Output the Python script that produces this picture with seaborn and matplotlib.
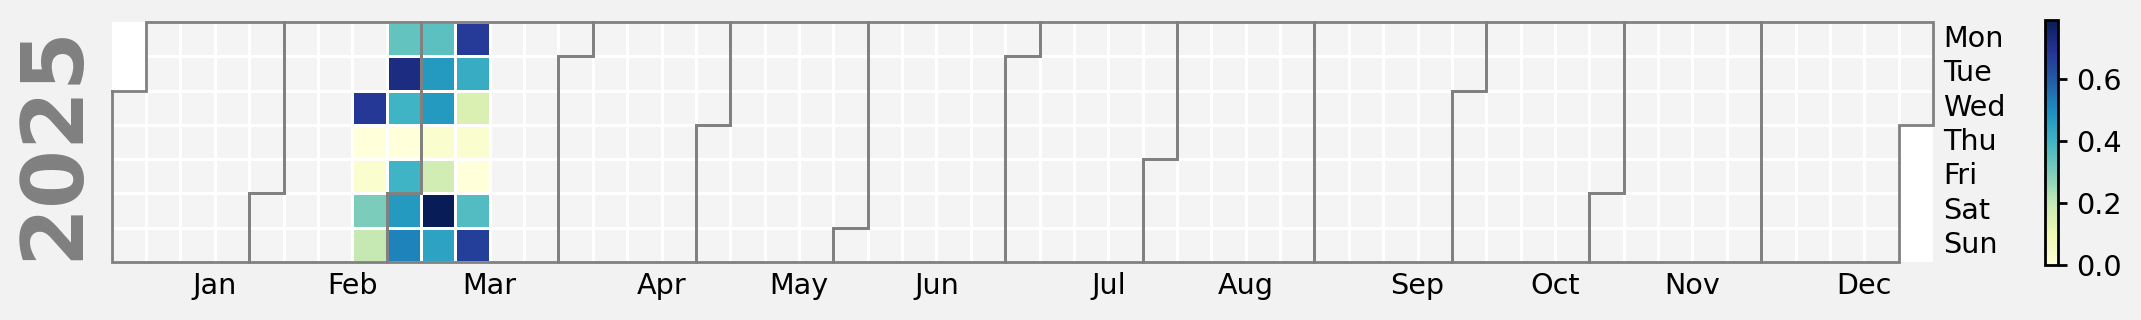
import numpy as np
import pandas as pd
import matplotlib
matplotlib.use("Agg")
import matplotlib.pyplot as plt
import seaborn as sns
from matplotlib.colors import ListedColormap

YEAR = 2025
dates = [
    "2025-02-19", "2025-02-20", "2025-02-21", "2025-02-22", "2025-02-23",
    "2025-02-24", "2025-02-25", "2025-02-26", "2025-02-27", "2025-02-28",
    "2025-03-01", "2025-03-02", "2025-03-03", "2025-03-04", "2025-03-05",
    "2025-03-06", "2025-03-07", "2025-03-08", "2025-03-09", "2025-03-10",
    "2025-03-11", "2025-03-12", "2025-03-13", "2025-03-14", "2025-03-15",
    "2025-03-16",
]
values = [
    0.68, 0.00, 0.03, 0.30, 0.20,
    0.34, 0.72, 0.40, 0.00, 0.40,
    0.47, 0.52, 0.35, 0.47, 0.47,
    0.03, 0.17, 0.79, 0.45, 0.675,
    0.42, 0.15, 0.03, 0.00, 0.37,
    0.665,
]
day_labels = ["Mon", "Tue", "Wed", "Thu", "Fri", "Sat", "Sun"]
month_labels = ["Jan", "Feb", "Mar", "Apr", "May", "Jun",
                "Jul", "Aug", "Sep", "Oct", "Nov", "Dec"]
cbar_ticks = [0.0, 0.2, 0.4, 0.6]

all_days = pd.date_range(f"{YEAR}-01-01", f"{YEAR}-12-31")
start_wd = all_days[0].weekday()


def col(d):
    return (d.dayofyear - 1 + start_wd) // 7


ncols = col(all_days[-1]) + 1
fill = np.full((7, ncols), np.nan)
for d in all_days:
    fill[d.weekday(), col(d)] = 1.0
data = np.full((7, ncols), np.nan)
for d, v in zip(pd.to_datetime(dates), values):
    data[d.weekday(), col(d)] = v

fig = plt.figure(figsize=(10.705, 1.6), dpi=200, facecolor="#f2f2f2")
ax = fig.add_axes([0.05217, 0.18125, 0.8507, 0.75])
cax = fig.add_axes([0.955, 0.1719, 0.0062, 0.7656])
ax.set_facecolor("white")

sns.heatmap(fill, ax=ax, cmap=ListedColormap(["#f4f4f4"]), cbar=False,
            linewidths=1.0, linecolor="white")
sns.heatmap(data, ax=ax, cmap="YlGnBu", vmin=0, vmax=max(values),
            cbar_ax=cax, linewidths=1.0, linecolor="white")

for m in range(1, 13):
    first = pd.Timestamp(YEAR, m, 1)
    last = first + pd.offsets.MonthEnd(0)
    x0, x1 = col(first), col(last)
    y0, y1 = first.weekday(), last.weekday()
    P = [(x0, y0), (x0, 7), (x1, 7), (x1, y1 + 1), (x1 + 1, y1 + 1),
         (x1 + 1, 0), (x0 + 1, 0), (x0 + 1, y0), (x0, y0)]
    xs, ys = zip(*P)
    ax.plot(xs, ys, color="grey", lw=1.0, solid_joinstyle="miter",
            solid_capstyle="projecting", clip_on=False)

ax.set_xticks([col(pd.Timestamp(YEAR, m, 15)) + 1 for m in range(1, 13)])
ax.set_xticklabels(month_labels, rotation=0, fontsize=10.3)
ax.set_yticks(np.arange(7) + 0.5)
ax.set_yticklabels(day_labels, rotation=0, fontsize=10.3, va="center")
ax.yaxis.tick_right()
ax.tick_params(length=0)
ax.tick_params(axis="y", pad=3.5)
ax.set_ylabel(str(YEAR), fontsize=30.5, color="grey", fontweight="bold",
              labelpad=6)
ax.yaxis.set_label_position("left")

cbar = ax.collections[-1].colorbar
cbar.outline.set_linewidth(1.0)
cbar.outline.set_edgecolor("black")
cbar.set_ticks(cbar_ticks)
cbar.ax.tick_params(labelsize=10.3, length=3.2, width=1.0)

fig.savefig("out.png", dpi=200, facecolor=fig.get_facecolor())
